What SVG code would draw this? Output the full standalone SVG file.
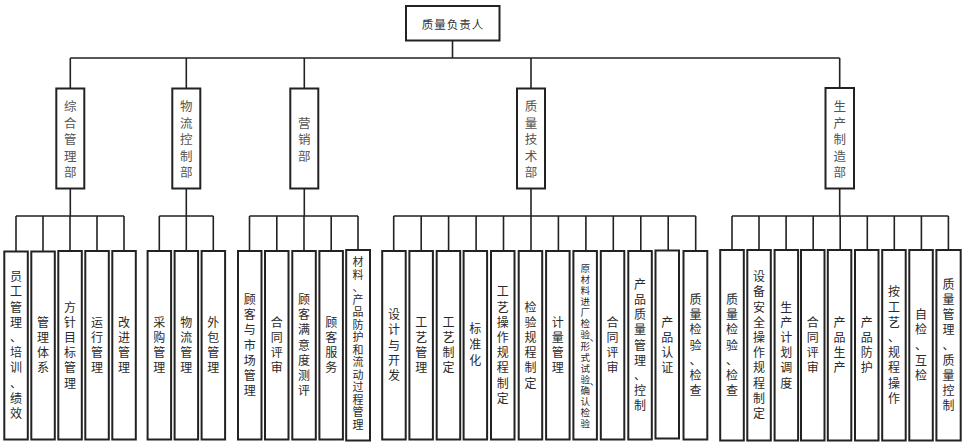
<svg xmlns="http://www.w3.org/2000/svg" width="966" height="446" viewBox="0 0 966 446">
<style>
.bx{fill:#fff;stroke:#222;stroke-width:2}
.ln{fill:none;stroke:#222;stroke-width:1.6}
text{font-family:"Noto Sans CJK SC","Noto Sans",sans-serif;dominant-baseline:central;text-anchor:middle}
.tp{font-size:11.5px;fill:#333;letter-spacing:1px}
.dp{font-size:12.5px;fill:#555}
.lf{font-size:12px;fill:#2a2a2a}
.lt{font-size:11px;fill:#2a2a2a}
.sm{font-size:9.5px;fill:#2a2a2a}
.pt{font-size:9.5px;fill:#2a2a2a;text-anchor:start}
</style>
<rect width="966" height="446" fill="#fff"/>
<g id="connectors">
<path class="ln" d="M452.5 40.5V58M70.3 58H839.7M70.3 58V88.5M186.3 58V88.5M304.3 58V88.5M531 58V88.5M839.7 58V88.5"/>
<path class="ln" d="M70.3 188.5V216M16 216H124M16 216V251M43 216V251M70 216V251M97 216V251M124 216V251"/>
<path class="ln" d="M186.3 188.5V216M159.3 216H213.3M159.3 216V251M186.3 216V251M213.3 216V251"/>
<path class="ln" d="M304.3 188.5V216M249.5 216H358M249.5 216V251M276.8 216V251M304 216V251M331.2 216V251M358 216V251"/>
<path class="ln" d="M531 188.5V216M393.7 216H695.7M393.7 216V251M421.2 216V251M448.6 216V251M476.1 216V251M503.5 216V251M531 216V251M558.4 216V251M585.9 216V251M613.3 216V251M640.8 216V251M668.2 216V251M695.7 216V251"/>
<path class="ln" d="M839.7 188.5V216M732 216H948.4M732 216V251M759 216V251M786.1 216V251M813.2 216V251M840.2 216V251M867.3 216V251M894.3 216V251M921.4 216V251M948.4 216V251"/>
</g>
<g id="top"><rect class="bx" x="406" y="6" width="93.5" height="34.5"/><text class="tp" x="453" y="23.5">质量负责人</text></g>
<g id="d1"><rect class="bx" x="56.3" y="88.5" width="28" height="100"/><text class="dp" x="70.3 70.3 70.3 70.3 70.3" y="105.7 122.2 138.7 155.2 171.7">综合管理部</text></g>
<g id="d2"><rect class="bx" x="172.3" y="88.5" width="28" height="100"/><text class="dp" x="186.3 186.3 186.3 186.3 186.3" y="105.7 122.2 138.7 155.2 171.7">物流控制部</text></g>
<g id="d3"><rect class="bx" x="290.3" y="88.5" width="28" height="100"/><text class="dp" x="304.3 304.3 304.3" y="122.2 138.7 155.2">营销部</text></g>
<g id="d4"><rect class="bx" x="517" y="88.5" width="28" height="100"/><text class="dp" x="531 531 531 531 531" y="105.7 122.2 138.7 155.2 171.7">质量技术部</text></g>
<g id="d5"><rect class="bx" x="825.5" y="88" width="28.5" height="100.5"/><text class="dp" x="839.7 839.7 839.7 839.7 839.7" y="105.7 122.2 138.7 155.2 171.7">生产制造部</text></g>

<g id="g1a"><rect class="bx" x="4.3" y="251.5" width="23.5" height="188"/><text class="lf" x="16 16 16 16 16 16 16 16 16 16" y="275.6 290.8 306 321.2 336.4 351.6 366.8 382 397.2 412.4">员工管理、培训、绩效</text></g>
<g id="g1b"><rect class="bx" x="31.3" y="251.5" width="23.5" height="188"/><text class="lf" x="43 43 43 43" y="321.2 336.4 351.6 366.8">管理体系</text></g>
<g id="g1c"><rect class="bx" x="58.3" y="251" width="23.5" height="188.5"/><text class="lf" x="70 70 70 70 70 70" y="306 321.2 336.4 351.6 366.8 382">方针目标管理</text></g>
<g id="g1d"><rect class="bx" x="85.3" y="251" width="23.5" height="188.5"/><text class="lf" x="97 97 97 97" y="321.2 336.4 351.6 366.8">运行管理</text></g>
<g id="g1e"><rect class="bx" x="112.3" y="251" width="23.5" height="188.5"/><text class="lf" x="124 124 124 124" y="321.2 336.4 351.6 366.8">改进管理</text></g>

<g id="g2a"><rect class="bx" x="147.6" y="251" width="23.5" height="188.5"/><text class="lf" x="159.3 159.3 159.3 159.3" y="321.2 336.4 351.6 366.8">采购管理</text></g>
<g id="g2b"><rect class="bx" x="174.6" y="251" width="23.5" height="188.5"/><text class="lf" x="186.3 186.3 186.3 186.3" y="321.2 336.4 351.6 366.8">物流管理</text></g>
<g id="g2c"><rect class="bx" x="201.6" y="251" width="23.5" height="188.5"/><text class="lf" x="213.3 213.3 213.3 213.3" y="321.2 336.4 351.6 366.8">外包管理</text></g>

<g id="g3a"><rect class="bx" x="238" y="251" width="23.5" height="188.5"/><text class="lf" x="249.7 249.7 249.7 249.7 249.7 249.7 249.7" y="298.4 313.6 328.8 344 359.2 374.4 389.6">顾客与市场管理</text></g>
<g id="g3b"><rect class="bx" x="265" y="251" width="23.5" height="188.5"/><text class="lf" x="276.8 276.8 276.8 276.8" y="321.2 336.4 351.6 366.8">合同评审</text></g>
<g id="g3c"><rect class="bx" x="292.3" y="251" width="23.5" height="188.5"/><text class="lf" x="304 304 304 304 304 304 304" y="298.4 313.6 328.8 344 359.2 374.4 389.6">顾客满意度测评</text></g>
<g id="g3d"><rect class="bx" x="319.4" y="251" width="23.5" height="188.5"/><text class="lf" x="331.2 331.2 331.2 331.2" y="321.2 336.4 351.6 366.8">顾客服务</text></g>
<g id="g3e"><rect class="bx" x="346.2" y="250" width="23.8" height="190.5"/><text class="lt" x="358 358 358 358 358 358 358 358 358 358 358 358 358 358" y="261.3 273.8 286.3 298.8 311.3 323.8 336.3 348.8 361.3 373.8 386.3 398.8 411.3 423.8">材料、产品防护和流动过程管理</text></g>

<g id="g4a"><rect class="bx" x="382.2" y="251" width="23.5" height="188.5"/><text class="lf" x="394 394 394 394 394" y="313.6 328.8 344 359.2 374.4">设计与开发</text></g>
<g id="g4b"><rect class="bx" x="409.4" y="251" width="23.5" height="188.5"/><text class="lf" x="421.2 421.2 421.2 421.2" y="321.2 336.4 351.6 366.8">工艺管理</text></g>
<g id="g4c"><rect class="bx" x="436.7" y="251" width="23.5" height="188.5"/><text class="lf" x="448.4 448.4 448.4 448.4" y="321.2 336.4 351.6 366.8">工艺制定</text></g>
<g id="g4d"><rect class="bx" x="463.6" y="251" width="23.5" height="188.5"/><text class="lf" x="475.3 475.3 475.3" y="327 343 359">标准化</text></g>
<g id="g4e"><rect class="bx" x="491" y="251" width="23.5" height="188.5"/><text class="lf" x="502.7 502.7 502.7 502.7 502.7 502.7 502.7 502.7" y="290.8 306 321.2 336.4 351.6 366.8 382 397.2">工艺操作规程制定</text></g>
<g id="g4f"><rect class="bx" x="518.7" y="251" width="23.5" height="188.5"/><text class="lf" x="530.5 530.5 530.5 530.5 530.5 530.5" y="306 321.2 336.4 351.6 366.8 382">检验规程制定</text></g>
<g id="g4g"><rect class="bx" x="546.1" y="251" width="23.5" height="188.5"/><text class="lf" x="557.8 557.8 557.8 557.8" y="321.2 336.4 351.6 366.8">计量管理</text></g>
<g id="g4h"><rect class="bx" x="573.4" y="251" width="23.5" height="188.5"/><text class="sm" x="585.2 585.2 585.2 585.2 585.2 585.2 585.2" y="267.8 278.9 290 301.1 312.2 323.3 334.4">原材料进厂检验</text><text class="pt" x="589.8" y="337">、</text><text class="sm" x="585.2 585.2 585.2 585.2" y="345.5 356.6 367.7 378.8">形式试验</text><text class="pt" x="589.8" y="381.4">、</text><text class="sm" x="585.2 585.2 585.2 585.2" y="389.9 401 412.1 423.2">确认检验</text></g>
<g id="g4i"><rect class="bx" x="600.8" y="251" width="23.5" height="188.5"/><text class="lf" x="612.5 612.5 612.5 612.5" y="321.2 336.4 351.6 366.8">合同评审</text></g>
<g id="g4j"><rect class="bx" x="628.3" y="251" width="23.5" height="188.5"/><text class="lf" x="640.1 640.1 640.1 640.1 640.1 640.1 640.1 640.1 640.1" y="283.2 298.4 313.6 328.8 344 359.2 374.4 389.6 404.8">产品质量管理、控制</text></g>
<g id="g4k"><rect class="bx" x="655.5" y="250.5" width="23.5" height="188"/><text class="lf" x="667.3 667.3 667.3 667.3" y="321.2 336.4 351.6 366.8">产品认证</text></g>
<g id="g4l"><rect class="bx" x="683.5" y="251" width="23.8" height="188.5"/><text class="lf" x="695.4 695.4 695.4 695.4 695.4 695.4 695.4" y="298.4 313.6 328.8 344 359.2 374.4 389.6">质量检验、检查</text></g>

<g id="g5a"><rect class="bx" x="720.2" y="250" width="23.6" height="190.5"/><text class="lf" x="732 732 732 732 732 732 732" y="298.4 313.6 328.8 344 359.2 374.4 389.6">质量检验、检查</text></g>
<g id="g5b"><rect class="bx" x="747.3" y="250" width="23.5" height="190.5"/><text class="lf" x="759 759 759 759 759 759 759 759 759 759" y="275.6 290.8 306 321.2 336.4 351.6 366.8 382 397.2 412.4">设备安全操作规程制定</text></g>
<g id="g5c"><rect class="bx" x="774.6" y="250" width="23.5" height="190.5"/><text class="lf" x="786.3 786.3 786.3 786.3 786.3 786.3" y="306 321.2 336.4 351.6 366.8 382">生产计划调度</text></g>
<g id="g5d"><rect class="bx" x="801" y="250" width="23.5" height="190.5"/><text class="lf" x="812.8 812.8 812.8 812.8" y="321.2 336.4 351.6 366.8">合同评审</text></g>
<g id="g5e"><rect class="bx" x="827.8" y="250" width="23.5" height="190.5"/><text class="lf" x="839.5 839.5 839.5 839.5" y="321.2 336.4 351.6 366.8">产品生产</text></g>
<g id="g5f"><rect class="bx" x="855" y="250" width="23.5" height="190.5"/><text class="lf" x="866.7 866.7 866.7 866.7" y="321.2 336.4 351.6 366.8">产品防护</text></g>
<g id="g5g"><rect class="bx" x="882.2" y="250" width="23.5" height="190.5"/><text class="lf" x="894 894 894 894 894 894 894 894" y="290.8 306 321.2 336.4 351.6 366.8 382 397.2">按工艺、规程操作</text></g>
<g id="g5h"><rect class="bx" x="909.3" y="250" width="23.5" height="190.5"/><text class="lf" x="921 921 921 921 921" y="313.6 328.8 344 359.2 374.4">自检、互检</text></g>
<g id="g5i"><rect class="bx" x="936.4" y="250" width="24.3" height="190.5"/><text class="lf" x="948.5 948.5 948.5 948.5 948.5 948.5 948.5 948.5 948.5" y="283.2 298.4 313.6 328.8 344 359.2 374.4 389.6 404.8">质量管理、质量控制</text></g>
</svg>
